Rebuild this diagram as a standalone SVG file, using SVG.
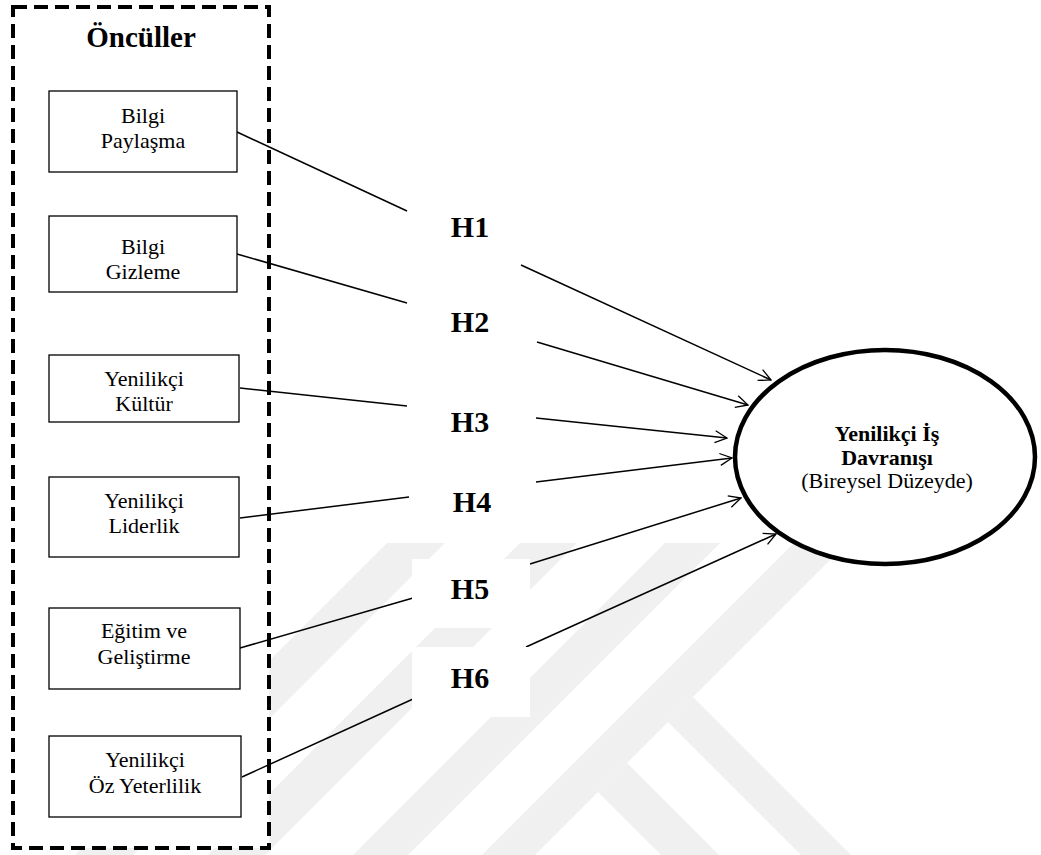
<svg xmlns="http://www.w3.org/2000/svg" width="1041" height="855" viewBox="0 0 1041 855">
<style>
.wm{fill:#f0f0f0;stroke:none}
.box{fill:#fff;stroke:#000;stroke-width:1.3}
.t{font-family:"Liberation Serif","Times New Roman",serif;font-size:22px;fill:#000;text-anchor:middle}
.b{font-weight:bold}
.h{font-family:"Liberation Serif","Times New Roman",serif;font-size:30px;font-weight:bold;fill:#000;text-anchor:middle}
.lbl{fill:#fff;stroke:none}
.c{fill:none;stroke:#000;stroke-width:1.5}
</style>
<defs>
<marker id="arr" viewBox="0 0 14 14" refX="13" refY="7" markerWidth="14" markerHeight="14" markerUnits="userSpaceOnUse" orient="auto">
<path d="M1,1 L13,7 L1,13" fill="none" stroke="#000" stroke-width="1.3"/>
</marker>
</defs>
<rect width="1041" height="855" fill="#fff"/>
<g id="watermark">
<polygon class="wm" points="387,543 445,543 133,855 75,855"/>
<polygon class="wm" points="520,543 577,543 265,855 208,855"/>
<polygon class="wm" points="665,543 720,543 408,855 353,855"/>
<polygon class="wm" points="794,543 847,543 535,855 482,855"/>
<polygon class="wm" points="693,697 851,855 801,855 668,722"/>
<polygon class="wm" points="627,763 719,855 661,855 598,792"/>
</g>
<g id="antecedents-frame">
<rect x="13" y="7" width="256" height="841" fill="#fff" stroke="#000" stroke-width="4" stroke-dasharray="14 7"/>
<text class="t b" x="141" y="47" style="font-size:29px">Öncüller</text>
</g>
<g id="connectors">
<line class="c" x1="237" y1="132" x2="407" y2="211"/>
<line class="c" x1="237" y1="254" x2="407" y2="303"/>
<line class="c" x1="240" y1="388" x2="407" y2="406"/>
<line class="c" x1="240" y1="518" x2="409" y2="497"/>
<line class="c" x1="240" y1="648" x2="413" y2="598"/>
<line class="c" x1="242" y1="777" x2="413" y2="699"/>
<line class="c" x1="521" y1="265" x2="771" y2="380" marker-end="url(#arr)"/>
<line class="c" x1="537" y1="342" x2="748" y2="405" marker-end="url(#arr)"/>
<line class="c" x1="536" y1="418" x2="727" y2="438" marker-end="url(#arr)"/>
<line class="c" x1="536" y1="482" x2="732" y2="458" marker-end="url(#arr)"/>
<line class="c" x1="530" y1="564" x2="741" y2="498" marker-end="url(#arr)"/>
<line class="c" x1="526" y1="647" x2="776" y2="534" marker-end="url(#arr)"/>
</g>
<g id="n-bilgi-paylasma">
<rect class="box" x="49" y="91" width="188" height="81"/>
<text class="t" x="143" y="123">Bilgi</text>
<text class="t" x="143" y="148">Paylaşma</text>
</g>
<g id="n-bilgi-gizleme">
<rect class="box" x="49" y="216" width="188" height="76"/>
<text class="t" x="143" y="254">Bilgi</text>
<text class="t" x="143" y="279">Gizleme</text>
</g>
<g id="n-yenilikci-kultur">
<rect class="box" x="49" y="355" width="190" height="67"/>
<text class="t" x="144" y="386">Yenilikçi</text>
<text class="t" x="144" y="411">Kültür</text>
</g>
<g id="n-yenilikci-liderlik">
<rect class="box" x="49" y="477" width="190" height="80"/>
<text class="t" x="144" y="508">Yenilikçi</text>
<text class="t" x="144" y="533">Liderlik</text>
</g>
<g id="n-egitim-gelistirme">
<rect class="box" x="49" y="608" width="191" height="81"/>
<text class="t" x="144" y="638">Eğitim ve</text>
<text class="t" x="144" y="664">Geliştirme</text>
</g>
<g id="n-oz-yeterlilik">
<rect class="box" x="49" y="736" width="192" height="81"/>
<text class="t" x="145" y="767">Yenilikçi</text>
<text class="t" x="145" y="793">Öz Yeterlilik</text>
</g>
<g id="l-h1"><rect class="lbl" x="408" y="200" width="112" height="60"/><text class="h" x="470" y="237">H1</text></g>
<g id="l-h2"><rect class="lbl" x="408" y="300" width="127" height="40"/><text class="h" x="470" y="332">H2</text></g>
<g id="l-h3"><rect class="lbl" x="408" y="400" width="127" height="45"/><text class="h" x="470" y="432">H3</text></g>
<g id="l-h4"><rect class="lbl" x="410" y="484" width="125" height="40"/><text class="h" x="472" y="512">H4</text></g>
<g id="l-h5"><rect class="lbl" x="412" y="559" width="118" height="69"/><text class="h" x="470" y="599">H5</text></g>
<g id="l-h6"><rect class="lbl" x="412" y="647" width="118" height="70"/><text class="h" x="470" y="688">H6</text></g>
<g id="n-yenilikci-is-davranisi">
<ellipse cx="885" cy="457" rx="150" ry="107" fill="#fff" stroke="#000" stroke-width="4.5"/>
<text class="t b" x="887" y="441">Yenilikçi İş</text>
<text class="t b" x="887" y="465">Davranışı</text>
<text class="t" x="887" y="488">(Bireysel Düzeyde)</text>
</g>
</svg>
